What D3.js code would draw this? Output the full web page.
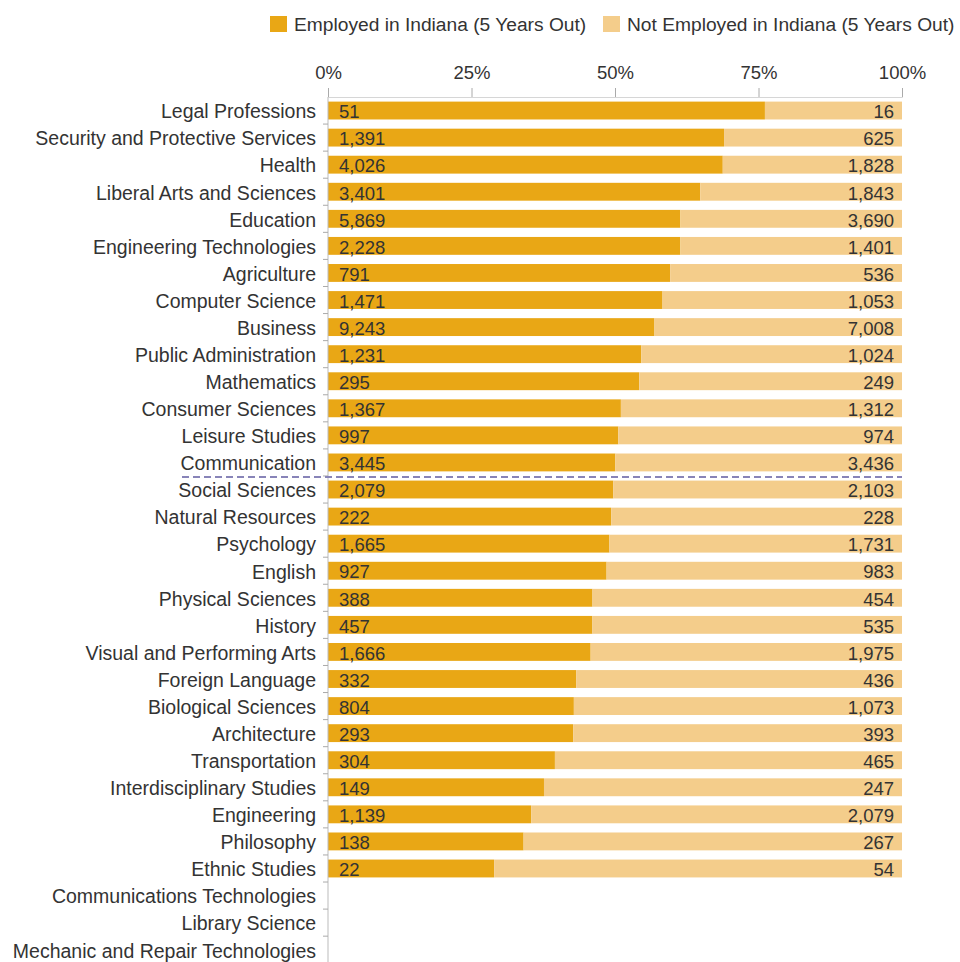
<!DOCTYPE html>
<html>
<head>
<meta charset="utf-8">
<script src="https://cdn.jsdelivr.net/npm/d3@7"></script>
<style>
  html, body { margin: 0; padding: 0; background: #fff; }
  svg { display: block; }
  text { font-family: "Liberation Sans", Arial, Helvetica, sans-serif; fill: #333; }
</style>
</head>
<body>
<svg id="chart" width="960" height="962"></svg>
<script>
// Fields of study, ordered by share employed in Indiana
const categories = [
  "Legal Professions", "Security and Protective Services", "Health",
  "Liberal Arts and Sciences", "Education", "Engineering Technologies",
  "Agriculture", "Computer Science", "Business", "Public Administration",
  "Mathematics", "Consumer Sciences", "Leisure Studies", "Communication",
  "Social Sciences", "Natural Resources", "Psychology", "English",
  "Physical Sciences", "History", "Visual and Performing Arts",
  "Foreign Language", "Biological Sciences", "Architecture", "Transportation",
  "Interdisciplinary Studies", "Engineering", "Philosophy", "Ethnic Studies",
  "Communications Technologies", "Library Science",
  "Mechanic and Repair Technologies"
];

// Graduates employed in Indiana five years out
const employed = [
  51, 1391, 4026, 3401, 5869, 2228, 791, 1471, 9243, 1231, 295, 1367, 997,
  3445, 2079, 222, 1665, 927, 388, 457, 1666, 332, 804, 293, 304, 149, 1139,
  138, 22, null, null, null
];

// Graduates not employed in Indiana five years out
const notEmployed = [
  16, 625, 1828, 1843, 3690, 1401, 536, 1053, 7008, 1024, 249, 1312, 974,
  3436, 2103, 228, 1731, 983, 454, 535, 1975, 436, 1073, 393, 465, 247, 2079,
  267, 54, null, null, null
];

const seriesNames = ["Employed in Indiana (5 Years Out)", "Not Employed in Indiana (5 Years Out)"];
const xTicks = [0, 0.25, 0.5, 0.75, 1];

// Last field above the 50% divider
const dividerAfter = "Communication";

const colors = ["#e9a715", "#f4cd8b"];
const labelSize = 19.5;
const legendSize = 19.2;
const numberSize = 18.5;

const svg = d3.select("#chart");
const margin = { top: 97, left: 328, right: 58 };
const width = 960;
const rowStep = 27.07;

const x = d3.scaleLinear().domain([0, 1]).range([margin.left, width - margin.right]);
const y = d3.scaleBand().domain(categories)
  .range([margin.top, margin.top + categories.length * rowStep])
  .paddingInner(0.34).paddingOuter(0.17);

const rows = categories.map((c, i) => {
  const a = employed[i], b = notEmployed[i];
  const has = a != null && b != null;
  return { cat: c, a, b, has, share: has ? a / (a + b) : 0 };
});

const fmt = d3.format(",");

// Stacked 100% bars
const rowG = svg.append("g").selectAll("g.row")
  .data(rows.filter(d => d.has)).join("g").attr("class", "row");

rowG.append("rect")
  .attr("x", x(0))
  .attr("y", d => y(d.cat))
  .attr("width", d => x(d.share) - x(0))
  .attr("height", y.bandwidth())
  .attr("fill", colors[0]);

rowG.append("rect")
  .attr("x", d => x(d.share))
  .attr("y", d => y(d.cat))
  .attr("width", d => x(1) - x(d.share))
  .attr("height", y.bandwidth())
  .attr("fill", colors[1]);

rowG.append("text")
  .attr("x", x(0) + 11)
  .attr("y", d => y(d.cat) + y.bandwidth() / 2)
  .attr("dy", "0.42em")
  .style("font-size", numberSize + "px")
  .text(d => fmt(d.a));

rowG.append("text")
  .attr("x", x(1) - 8)
  .attr("y", d => y(d.cat) + y.bandwidth() / 2)
  .attr("dy", "0.42em")
  .attr("text-anchor", "end")
  .style("font-size", numberSize + "px")
  .text(d => fmt(d.b));

// Top percentage axis
const xAxis = svg.append("g")
  .attr("transform", `translate(0,${margin.top})`)
  .call(d3.axisTop(x).tickValues(xTicks).tickFormat(d3.format(".0%")).tickSize(9).tickPadding(9));
xAxis.select(".domain").attr("stroke", "#d6d6d6");
xAxis.selectAll(".tick line").attr("stroke", "#aaa");
xAxis.selectAll(".tick text").style("font-size", numberSize + "px").attr("fill", "#333");

// Left category axis, with ticks between the bands
const yAxis = svg.append("g")
  .attr("transform", `translate(${margin.left},0)`)
  .call(d3.axisLeft(y).tickSize(0).tickPadding(12));
yAxis.select(".domain").attr("stroke", "#bbb").attr("d", `M0,${margin.top}V962`);
yAxis.selectAll(".tick text")
  .style("font-size", labelSize + "px")
  .attr("fill", "#333")
  .attr("dy", "0.4em");

const boundaries = d3.range(1, categories.length).map(i => margin.top + i * y.step());
yAxis.selectAll("line.sep").data(boundaries).join("line")
  .attr("class", "sep")
  .attr("x1", -5).attr("x2", 0)
  .attr("y1", d => d).attr("y2", d => d)
  .attr("stroke", "#aaa");

// 50% divider below the last field with a majority employed in state
const divY = margin.top + (categories.indexOf(dividerAfter) + 1) * y.step() + 1;
svg.append("line")
  .attr("x1", 182).attr("x2", x(1))
  .attr("y1", divY).attr("y2", divY)
  .attr("stroke", "#8884b8")
  .attr("stroke-width", 2)
  .attr("stroke-dasharray", "7,4");

// Legend
const legend = svg.append("g");
const legendX = [270, 603];
seriesNames.forEach((name, i) => {
  legend.append("rect")
    .attr("x", legendX[i]).attr("y", 16)
    .attr("width", 17).attr("height", 16)
    .attr("fill", colors[i]);
  legend.append("text")
    .attr("x", legendX[i] + 24).attr("y", 24)
    .attr("dy", "0.38em")
    .style("font-size", legendSize + "px")
    .text(name);
});
</script>
</body>
</html>
